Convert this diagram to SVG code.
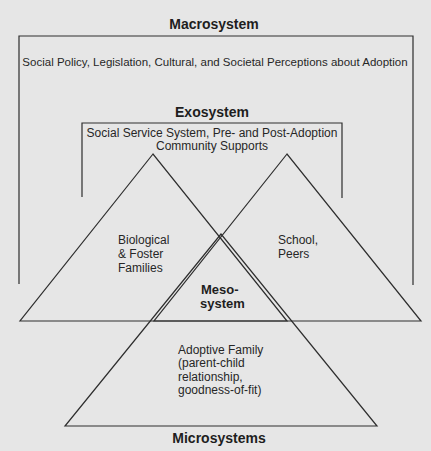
<svg xmlns="http://www.w3.org/2000/svg" width="431" height="451" viewBox="0 0 431 451">
<style>
.ln{fill:none;stroke:#2e2e2e;stroke-width:1.2;stroke-linejoin:miter}
.t{font-family:"Liberation Sans",Arial,sans-serif;font-size:12px;fill:#262626}
.b{font-family:"Liberation Sans",Arial,sans-serif;font-size:14px;font-weight:bold;fill:#1e1e1e}
.m{font-family:"Liberation Sans",Arial,sans-serif;font-size:13px;font-weight:bold;fill:#1e1e1e}
</style>
<rect x="0" y="0" width="431" height="451" fill="#e6e6e6"/>
<g id="macrosystem">
<path class="ln" d="M19,284 V36 H413 V285"/>
<text class="b" x="214" y="29" text-anchor="middle">Macrosystem</text>
<text class="t" x="215" y="66" text-anchor="middle" style="font-size:11.5px">Social Policy, Legislation, Cultural, and Societal Perceptions about Adoption</text>
</g>
<g id="exosystem">
<path class="ln" d="M82,197 V123 H342 V198"/>
<text class="b" x="212" y="117" text-anchor="middle">Exosystem</text>
<text class="t" x="212" y="137" text-anchor="middle">Social Service System, Pre- and Post-Adoption</text>
<text class="t" x="212" y="150" text-anchor="middle">Community Supports</text>
</g>
<g id="biological-foster">
<polygon class="ln" points="153,154 20,321 287,321"/>
<text class="t" x="118" y="244">Biological</text>
<text class="t" x="118" y="258">&amp; Foster</text>
<text class="t" x="118" y="272">Families</text>
</g>
<g id="school-peers">
<polygon class="ln" points="287,154 154,321 421,321"/>
<text class="t" x="278" y="244">School,</text>
<text class="t" x="278" y="258">Peers</text>
</g>
<g id="adoptive-family">
<polygon class="ln" points="221,234 65,426 377,426"/>
<text class="t" x="178" y="354">Adoptive Family</text>
<text class="t" x="178" y="367">(parent-child</text>
<text class="t" x="178" y="381">relationship,</text>
<text class="t" x="178" y="394">goodness-of-fit)</text>
</g>
<g id="mesosystem">
<text class="m" x="201" y="294">Meso-</text>
<text class="m" x="200" y="307.5">system</text>
</g>
<g id="microsystems">
<text class="b" x="219" y="443" text-anchor="middle">Microsystems</text>
</g>
<g id="connectors"/>
</svg>
